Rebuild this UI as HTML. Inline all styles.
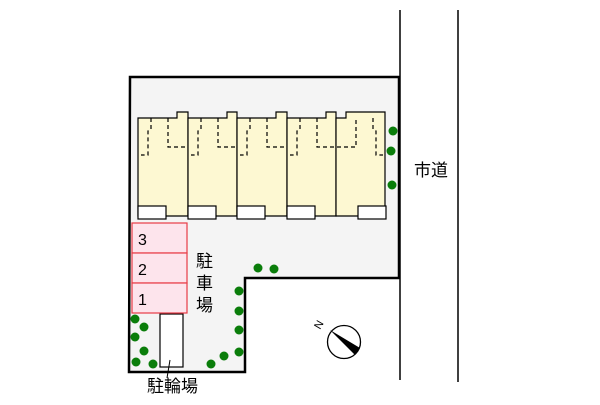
<!DOCTYPE html>
<html><head><meta charset="utf-8"><style>
body{margin:0;background:#fff;width:600px;height:400px;overflow:hidden}
text{font-family:"Liberation Sans","Noto Sans CJK JP",sans-serif}
</style></head><body>
<svg width="600" height="400" viewBox="0 0 600 400" xmlns="http://www.w3.org/2000/svg">
<line x1="400" y1="10" x2="400" y2="380" stroke="#000" stroke-width="1.5"/>
<line x1="458" y1="10" x2="458" y2="382" stroke="#000" stroke-width="1.5"/>
<text x="414" y="176" font-size="17">市道</text>
<polygon points="130,77 399,77 399,278 245,278 245,372 129,372" fill="#f4f4f4" stroke="#000" stroke-width="2.5"/>
<g stroke="#000" stroke-width="1.2" fill="#fdf8d2">
<path d="M138,118 H177 V112 H188 V216 H138 Z"/>
<path d="M188,118 H227 V112 H237 V216 H188 Z"/>
<path d="M237,118 H276 V112 H287 V216 H237 Z"/>
<path d="M287,118 H326 V112 H336 V216 H287 Z"/>
<path d="M336,118 H346 V112 H385 V216 H336 Z"/>
</g>
<g stroke="#000" stroke-width="1.2" fill="none" stroke-dasharray="4,3">
<path d="M151,118 V129 L148,131 V155 H141"/><path d="M168,118 V147 H188"/>
<path d="M201,118 V129 L198,131 V155 H191"/><path d="M218,118 V147 H237"/>
<path d="M250,118 V129 L247,131 V155 H240"/><path d="M267,118 V147 H287"/>
<path d="M300,118 V129 L297,131 V155 H290"/><path d="M317,118 V147 H356 V118"/>
<path d="M373,118 V129 L376,131 V155 H383"/>
</g>
<g fill="#fff" stroke="#000" stroke-width="1.2">
<rect x="138" y="206" width="28" height="13"/><rect x="188" y="206" width="28" height="13"/>
<rect x="237" y="206" width="28" height="13"/><rect x="287" y="206" width="28" height="13"/>
<rect x="358" y="206" width="28" height="13"/>
<rect x="160" y="314" width="23" height="53"/>
</g>
<g fill="#fde4ec" stroke="#e83b45" stroke-width="1.2">
<rect x="132" y="223" width="55" height="30"/><rect x="132" y="253" width="55" height="30"/><rect x="132" y="283" width="55" height="30"/>
</g>
<g font-size="16"><text x="138" y="245">3</text><text x="138" y="275">2</text><text x="138" y="305">1</text></g>
<g font-size="17"><text x="196" y="267">駐</text><text x="196" y="289">車</text><text x="196" y="311">場</text></g>
<text x="147" y="392" font-size="17">駐輪場</text>
<line x1="170" y1="360" x2="167" y2="378" stroke="#000" stroke-width="1"/>
<g fill="#0a7d0a">
<circle cx="393" cy="131" r="4.5"/><circle cx="391" cy="151" r="4.5"/><circle cx="392" cy="185" r="4.5"/>
<circle cx="258" cy="268" r="4.5"/><circle cx="274" cy="269" r="4.5"/>
<circle cx="239" cy="291" r="4.5"/><circle cx="239" cy="311" r="4.5"/><circle cx="239" cy="330" r="4.5"/><circle cx="239" cy="352" r="4.5"/>
<circle cx="224" cy="356" r="4.5"/><circle cx="211" cy="364" r="4.5"/>
<circle cx="135" cy="319" r="4.5"/><circle cx="144" cy="327" r="4.5"/><circle cx="135" cy="337" r="4.5"/>
<circle cx="144" cy="351" r="4.5"/><circle cx="136" cy="362" r="4.5"/><circle cx="153" cy="364" r="4.5"/>
</g>
<circle cx="344" cy="342" r="16.5" fill="#fff" stroke="#000" stroke-width="1.3"/>
<polygon points="330,330 360,348 355,355" fill="#000"/>
<text x="0" y="0" font-size="11" transform="translate(320,330) rotate(-60)">N</text>
</svg>
</body></html>
